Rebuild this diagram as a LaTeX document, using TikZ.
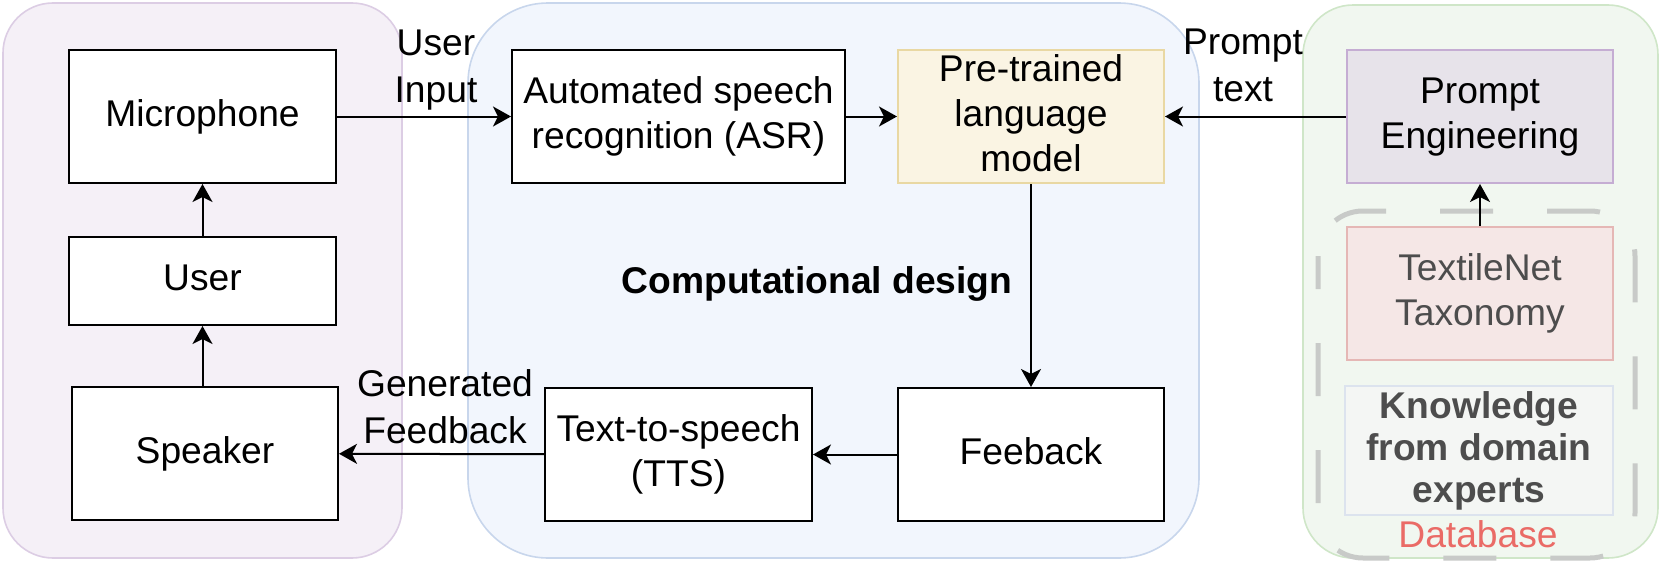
\documentclass[tikz,border=0pt]{standalone}
\usepackage{fontspec}
\setmainfont{Liberation Sans}
\usetikzlibrary{arrows.meta}
\definecolor{leftfill}{HTML}{F5F0F7}
\definecolor{leftdraw}{HTML}{DCCDE4}
\definecolor{midfill}{HTML}{F2F6FD}
\definecolor{middraw}{HTML}{C8D6EC}
\definecolor{rightfill}{HTML}{F1F7F0}
\definecolor{rightdraw}{HTML}{CFE6C8}
\definecolor{plmfill}{HTML}{FAF4E3}
\definecolor{plmdraw}{HTML}{E9D8A3}
\definecolor{pefill}{HTML}{E7E3EA}
\definecolor{pedraw}{HTML}{C5ADD3}
\definecolor{tnfill}{HTML}{F5E7E6}
\definecolor{tndraw}{HTML}{E5B7B5}
\definecolor{knfill}{HTML}{F4F6F4}
\definecolor{kndraw}{HTML}{DCE3EE}
\definecolor{dashgray}{HTML}{C8CAC8}
\definecolor{txtgray}{HTML}{4D4D4D}
\definecolor{dbred}{HTML}{EA6B66}
\newcommand\mystrutx{\rule[-0.21em]{0pt}{0.94em}}
\begin{document}
\begin{tikzpicture}[x=0.5pt,y=-0.5pt,
  every node/.style={font=\fontsize{18.6pt}{22.5pt}\selectfont},
  box/.style={draw=black, line width=1pt, fill=white, inner sep=0pt, align=center},
  sz/.style 2 args={minimum width=#1*0.5pt, minimum height=#2*0.5pt},
  arr/.style={line width=1pt, -{Stealth[length=9pt,width=10pt,inset=2.5pt]}},
  panel/.style={line width=0.8pt},
  lbl/.style={align=center, inner sep=0pt, font=\fontsize{18.6pt}{23.5pt}\selectfont}]
\useasboundingbox (0,0) rectangle (1661,578);
% panels
\draw[panel, draw=leftdraw, fill=leftfill, rounded corners=25pt] (3,3) rectangle (402,558);
\draw[panel, draw=middraw, fill=midfill, rounded corners=40pt] (468,3) rectangle (1199,558);
\draw[panel, draw=rightdraw, fill=rightfill, rounded corners=25pt] (1303,5) rectangle (1658,558);
\draw[draw=dashgray, line width=2.5pt, rounded corners=22.5pt, dash pattern=on 26.5pt off 27pt, dash phase=10pt] (1318,211) rectangle (1635,558);
% left column
\node[box, sz={267}{133}] (mic) at (202.5,116.5) {\mystrutx Microphone};
\node[box, sz={267}{88}] (user) at (202.5,281) {\mystrutx User};
\node[box, sz={266}{133}] (spk) at (205,453.5) {\mystrutx Speaker};
% middle
\node[box, sz={333}{133}] (asr) at (678.5,116.5) {\mystrutx Automated speech\\\mystrutx recognition (ASR)};
\node[box, sz={266}{133}, draw=plmdraw, fill=plmfill] (plm) at (1031,116.5) {\mystrutx Pre-trained\\\mystrutx language\\\mystrutx model};
\node[box, sz={266}{133}] (feed) at (1031,454.5) {\mystrutx Feeback};
\node[box, sz={267}{133}] (tts) at (678.5,454.5) {\mystrutx Text-to-speech\\\mystrutx (TTS)};
\node[font=\fontsize{18.6pt}{22.5pt}\selectfont\bfseries, anchor=base, inner sep=0pt] (cd) at (817,293) {Computational design};
% right
\node[box, sz={266}{133}, draw=pedraw, fill=pefill] (pe) at (1480,116.5) {\mystrutx Prompt\\\mystrutx Engineering};
\node[box, sz={266}{133}, draw=tndraw, fill=tnfill, text=txtgray] (tn) at (1480,293.5) {\mystrutx TextileNet\\\mystrutx Taxonomy};
\node[box, sz={268}{129}, draw=kndraw, fill=knfill, text=txtgray, line width=1.2pt, font=\fontsize{18.6pt}{21pt}\selectfont\bfseries] (kn) at (1479,450.5) {\mystrutx Knowledge\\\mystrutx from domain\\\mystrutx experts};
\node[text=dbred, anchor=base, inner sep=0pt] (db) at (1478,547) {Database};
% connectors
\draw[arr] (mic.east) -- (asr.west);
\draw[arr] (asr) -- (plm);
\draw[arr] (pe) -- (plm);
\draw[arr] (plm) -- (feed);
\draw[arr] (feed) -- (tts);
\draw[arr] (tts) -- (spk);
\draw[arr] (user.south |- spk.north) -- (user.south);
\draw[arr] (user) -- (mic);
\draw[arr] (tn) -- (pe);
% edge labels
\node[lbl] (lin) at (436,69) {\mystrutx User\\\mystrutx Input};
\node[lbl] (lpt) at (1243,68) {\mystrutx Prompt\\\mystrutx text};
\node[lbl] (lgf) at (445,410) {\mystrutx Generated\\\mystrutx Feedback};
\end{tikzpicture}
\end{document}
